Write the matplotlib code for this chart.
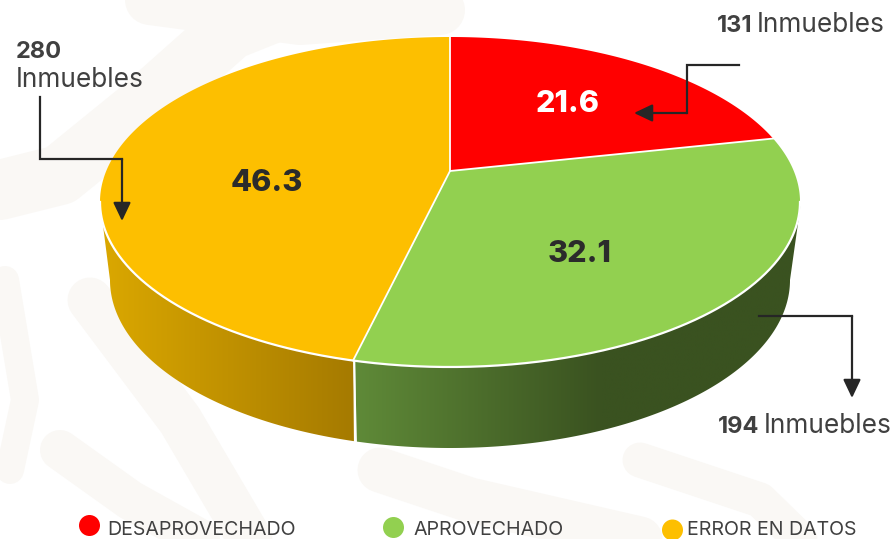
import numpy as np
import matplotlib
matplotlib.use("Agg")
import matplotlib.pyplot as plt
from matplotlib.patches import Ellipse, Polygon

categories = ["DESAPROVECHADO", "APROVECHADO", "ERROR EN DATOS"]
shares = [21.6, 32.1, 46.3]
counts = [131, 194, 280]
colors = ["#FF0000", "#92D050", "#FDBF00"]
share_labels = ["21.6", "32.1", "46.3"]

plt.rcParams["font.family"] = ["Inter", "DejaVu Sans"]
W, H = 894, 539
fig = plt.figure(figsize=(W / 100, H / 100), dpi=100, facecolor="white")
ax = fig.add_axes([0, 0, 1, 1])
ax.set_xlim(0, W)
ax.set_ylim(H, 0)
ax.axis("off")

# faint background pattern
BG = "#FAF8F5"
for pts, lw in [
    ([(0, 190), (60, 175), (140, 110), (230, 30), (330, -10)], 60),
    ([(150, 0), (300, 20), (440, 10)], 50),
    ([(5, 280), (25, 400), (10, 470)], 28),
    ([(90, 300), (180, 420), (250, 539)], 45),
    ([(60, 450), (130, 500), (200, 539)], 40),
    ([(380, 470), (470, 500), (640, 539)], 45),
    ([(640, 460), (760, 500), (800, 539)], 35),
]:
    x, y = zip(*pts)
    ax.plot(x, y, color=BG, lw=lw * 0.72, solid_capstyle="round", zorder=0)

CX, CY, RX, RY = 450, 202, 350, 165
T = (CY - 171) / RY            # perspective shift of the apex
BCX, BCY, BRX, BRY = 450, 280, 340, 168


def project(theta):
    """Clockwise angle from the top of the disc -> picture coordinates."""
    u, v = np.sin(theta), np.cos(theta)
    d = 1 + T * v
    return CX + RX * u * np.sqrt(1 - T ** 2) / d, CY - RY * (v + T) / d


edges = np.cumsum([0] + shares) / sum(shares) * 2 * np.pi
split_x, _ = project(edges[2])


def wall(kind, x0, x1, c0, c1, c_end=None):
    t = np.linspace(np.pi, 2 * np.pi, 500)
    tx, ty = CX + RX * np.cos(t), CY - RY * np.sin(t)
    bx, by = BCX + BRX * np.cos(t), BCY - BRY * np.sin(t)
    mt, mb = (tx >= x0) & (tx <= x1), (bx >= x0) & (bx <= x1)
    top = np.c_[tx[mt], ty[mt]]
    bottom = np.c_[bx[mb], by[mb]][::-1]
    if kind == "left":
        verts = np.vstack([[(100, 202)], top, bottom, [(110, 280)]])
    else:
        verts = np.vstack([top, [(801, 202)], [(790, 280)], bottom])
    poly = Polygon(verts, closed=True, fc="none", ec="none", transform=ax.transData)
    ax.add_patch(poly)
    s = np.linspace(0, 1, 256)
    c0, c1 = np.array(matplotlib.colors.to_rgb(c0)), np.array(matplotlib.colors.to_rgb(c1))
    ss = s if c_end is None else np.clip(s / c_end, 0, 1)
    g = c0[None] + (c1 - c0)[None] * ss[:, None]
    im = ax.imshow(g[None], extent=(x0, x1, 460, 150), aspect="auto", zorder=1,
                   interpolation="bilinear")
    im.set_clip_path(poly)


wall("left", 100, split_x + 2, "#DBA800", "#A57A00")
wall("right", split_x + 2, 801, "#5F8A38", "#3A5220", c_end=0.55)
ax.set_xlim(0, W)
ax.set_ylim(H, 0)

# white seam between the walls
_, sy = project(edges[2])
ax.plot([split_x + 1, split_x + 3], [sy, sy + 81], color="white", lw=1.2, zorder=2)

# top slices
for i, c in enumerate(colors):
    th = np.linspace(edges[i], edges[i + 1], 300)
    x, y = project(th)
    ax.fill(np.r_[CX, x], np.r_[171, y], color=c, zorder=3, ec="none")
for e in edges[:3]:
    x, y = project(np.array([e]))
    ax.plot([CX, x[0]], [171, y[0]], color="white", lw=1.3, zorder=4)
t = np.linspace(np.pi, 2 * np.pi, 400)
ax.plot(CX + RX * np.cos(t), CY - RY * np.sin(t), color="white", lw=1.6, zorder=4)

# share labels
DARK = "#2B2B2B"
for lab, col, (x, y) in zip(share_labels, ["white", DARK, DARK],
                            [(568, 104), (580, 254), (267, 183)]):
    ax.text(x, y, lab, color=col, fontsize=22, fontweight=800,
            ha="center", va="center", zorder=6)

# callouts
LINE = "#262626"


def callout(pts):
    x, y = zip(*pts[:-1])
    ax.plot(x, y, color=LINE, lw=1.6, solid_joinstyle="miter", zorder=7)
    ax.annotate("", xy=pts[-1], xytext=pts[-2], zorder=7,
                arrowprops=dict(arrowstyle="-|>,head_length=0.8,head_width=0.38",
                                color=LINE, lw=1.6, shrinkA=0, shrinkB=0,
                                mutation_scale=14))


callout([(739, 65), (687, 65), (687, 113), (634, 113)])
callout([(40, 97), (40, 159), (122, 159), (122, 221)])
callout([(759, 316), (852, 316), (852, 398)])

TXT = "#404040"
BFS, LFS = 17, 18.9
ax.text(717, 32, str(counts[0]), color=TXT, fontsize=BFS, fontweight="bold", va="baseline")
ax.text(757, 32, "Inmuebles", color=TXT, fontsize=LFS, va="baseline")
ax.text(16, 58, str(counts[2]), color=TXT, fontsize=BFS, fontweight="bold", va="baseline")
ax.text(16, 87, "Inmuebles", color=TXT, fontsize=LFS, va="baseline")
ax.text(718, 433, str(counts[1]), color=TXT, fontsize=BFS, fontweight="bold", va="baseline")
ax.text(764, 433, "Inmuebles", color=TXT, fontsize=LFS, va="baseline")

# legend
for cat, c, mx, my, tx in zip(categories, colors, [89.5, 393.5, 672.5],
                              [525.5, 527.5, 530], [107, 413, 687]):
    ax.add_patch(Ellipse((mx, my), 21, 21, fc=c, ec="none", zorder=6))
    ax.text(tx, 535, cat, color=TXT, fontsize=14.1, va="baseline", zorder=6)

fig.savefig("out.png", dpi=100, facecolor="white")
